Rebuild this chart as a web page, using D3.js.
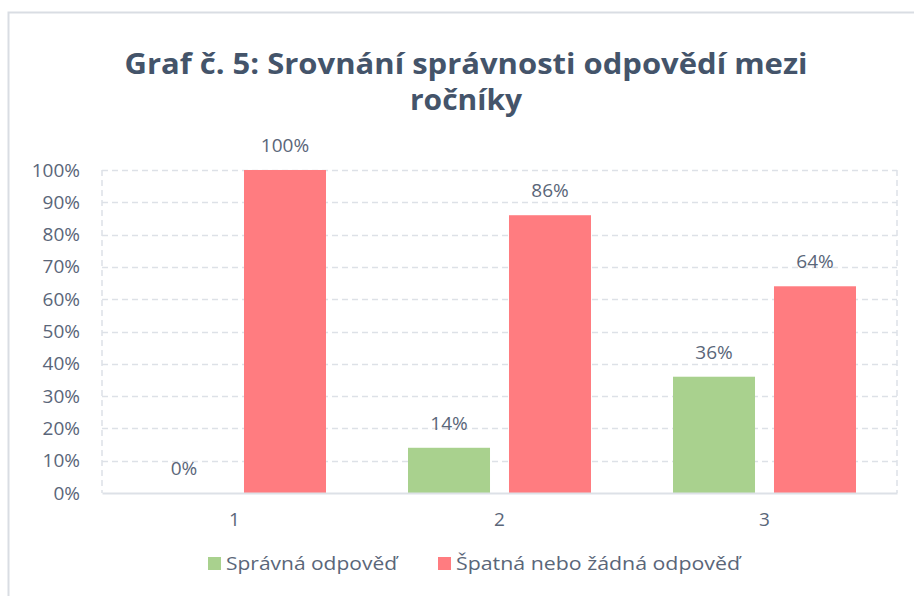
<!DOCTYPE html>
<html>
<head>
<meta charset="utf-8">
<script src="https://cdn.jsdelivr.net/npm/d3@7"></script>
<style>
  body { margin: 0; background: #fff; }
  svg { display: block; }
</style>
</head>
<body>
<svg id="chart"></svg>
<script>
const categories = ['1', '2', '3'];
const seriesNames = ['Správná odpověď', 'Špatná nebo žádná odpověď'];
const correct = [0, 0.14, 0.36];
const wrong = [1.00, 0.86, 0.64];
const yTicks = [0, 0.1, 0.2, 0.3, 0.4, 0.5, 0.6, 0.7, 0.8, 0.9, 1.0];
const colors = ['#a9d18e', '#ff7c80'];

const width = 914;
const height = 596;
const plot = ({left: 102, right: 897, top: 170, bottom: 493});
const textColor = '#5a6679';
const font = '"Open Sans", "Noto Sans", sans-serif';

const rows = categories.map((c, i) => ({cat: c, values: [correct[i], wrong[i]]}));

const svg = d3.select('#chart')
    .attr('width', width)
    .attr('height', height)
    .style('font-family', font);

// chart frame (only its left and top edges are inside the picture)
svg.append('rect')
    .attr('x', 8.5).attr('y', 12.5)
    .attr('width', width + 20).attr('height', height + 20)
    .attr('fill', '#fff')
    .attr('stroke', '#d9dde3')
    .attr('stroke-width', 2);

// title
const title = svg.append('g')
    .attr('fill', '#44546a')
    .attr('font-weight', 'bold')
    .attr('font-size', 28)
    .attr('text-anchor', 'middle');
title.append('text')
    .attr('x', 466).attr('y', 74)
    .attr('textLength', 683)
    .attr('lengthAdjust', 'spacingAndGlyphs')
    .text('Graf č. 5: Srovnání správnosti odpovědí mezi');
title.append('text')
    .attr('x', 466).attr('y', 110)
    .attr('textLength', 112)
    .attr('lengthAdjust', 'spacingAndGlyphs')
    .text('ročníky');

const x0 = d3.scaleBand()
    .domain(categories)
    .range([plot.left, plot.right]);

const x1 = d3.scaleBand()
    .domain(d3.range(seriesNames.length))
    .range([41, 224])
    .paddingInner(0.188);

const y = d3.scaleLinear()
    .domain([0, 1])
    .range([plot.bottom, plot.top]);

// grid
const grid = svg.append('g')
    .attr('stroke', '#dde1e7')
    .attr('stroke-width', 1.5)
    .attr('stroke-dasharray', '6,4');

grid.selectAll('line.h')
    .data(yTicks.filter(d => d > 0))
    .join('line')
    .attr('class', 'h')
    .attr('x1', plot.left).attr('x2', plot.right)
    .attr('y1', d => Math.round(y(d)) + 0.5)
    .attr('y2', d => Math.round(y(d)) + 0.5);

grid.selectAll('line.v')
    .data([plot.left, plot.right])
    .join('line')
    .attr('class', 'v')
    .attr('x1', d => d).attr('x2', d => d)
    .attr('y1', plot.top).attr('y2', plot.bottom);

// y axis labels
const yAxis = svg.append('g')
    .attr('transform', `translate(${plot.left},0)`)
    .call(d3.axisLeft(y).tickValues(yTicks).tickFormat(d3.format('.0%')).tickSize(0).tickPadding(22));
yAxis.select('.domain').remove();
yAxis.selectAll('text')
    .attr('fill', textColor)
    .style('font-size', '19px')
    .style('font-family', font);

// bars
const groups = svg.append('g')
    .selectAll('g')
    .data(rows)
    .join('g')
    .attr('transform', d => `translate(${x0(d.cat)},0)`);

groups.selectAll('rect')
    .data(d => d.values.map((v, i) => ({i: i, v: v})))
    .join('rect')
    .attr('x', d => x1(d.i))
    .attr('width', x1.bandwidth())
    .attr('y', d => y(d.v))
    .attr('height', d => y(0) - y(d.v))
    .attr('fill', d => colors[d.i]);

groups.selectAll('text')
    .data(d => d.values.map((v, i) => ({i: i, v: v})))
    .join('text')
    .attr('x', d => x1(d.i) + x1.bandwidth() / 2)
    .attr('y', d => y(d.v) - 18)
    .attr('text-anchor', 'middle')
    .attr('fill', textColor)
    .attr('font-size', 19)
    .text(d => d3.format('.0%')(d.v));

// x axis
const xAxis = svg.append('g')
    .attr('transform', `translate(0,${plot.bottom})`)
    .call(d3.axisBottom(x0).tickSize(0).tickPadding(20));
xAxis.select('.domain')
    .attr('stroke', '#dde1e7')
    .attr('stroke-width', 2);
xAxis.selectAll('text')
    .attr('fill', textColor)
    .style('font-size', '19px')
    .style('font-family', font);

// legend
const legendX = [208, 438];
const legendLen = [171, 284];
const legend = svg.append('g')
    .selectAll('g')
    .data(seriesNames)
    .join('g')
    .attr('transform', (d, i) => `translate(${legendX[i]},557)`);
legend.append('rect')
    .attr('width', 13).attr('height', 13)
    .attr('fill', (d, i) => colors[i]);
legend.append('text')
    .attr('x', 18).attr('y', 13)
    .attr('fill', textColor)
    .attr('font-size', 19)
    .attr('textLength', (d, i) => legendLen[i])
    .attr('lengthAdjust', 'spacingAndGlyphs')
    .text(d => d);
</script>
</body>
</html>
